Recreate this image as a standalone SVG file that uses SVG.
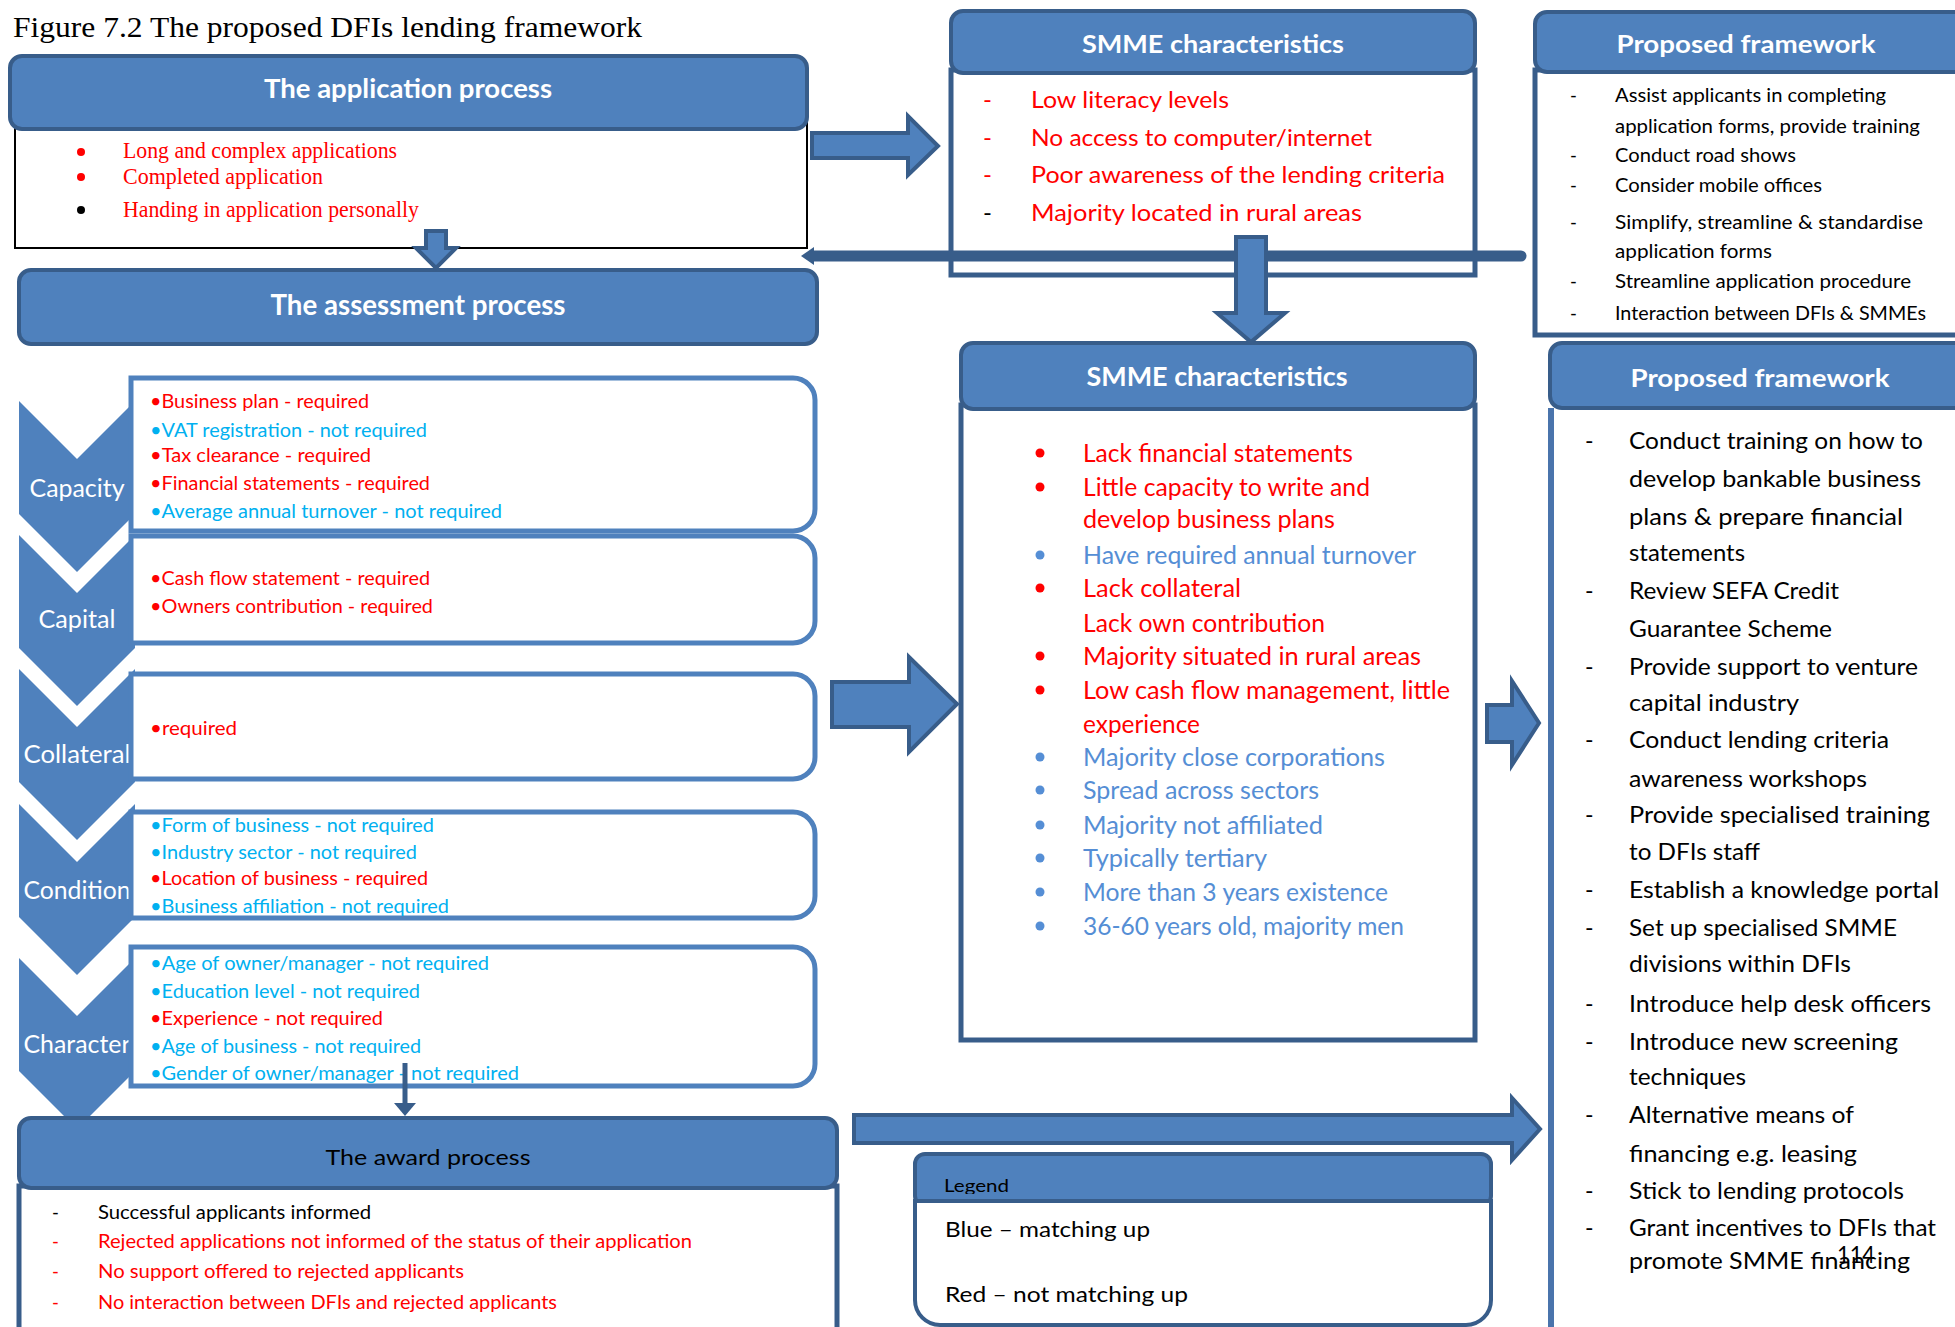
<svg xmlns="http://www.w3.org/2000/svg" width="1955" height="1327" viewBox="0 0 1955 1327">
<style>
.hdr{fill:#4F81BD;stroke:#385D8A;stroke-width:4}
.body{fill:#fff;stroke:#385D8A;stroke-width:5}
.sub{fill:#fff;stroke:#4F81BD;stroke-width:5}
.chev{fill:#4F81BD}
.arr{fill:#4F81BD;stroke:#385D8A;stroke-width:4}
text{font-family:Lato,"Liberation Sans",sans-serif}
.ht{fill:#fff;font-weight:bold;text-anchor:middle}
.serif{font-family:"Liberation Serif",serif}
.r{fill:#FF0000}.lb{fill:#00B0F0}.mb{fill:#558ED5}.k{fill:#000}
.f18{font-size:18.5px}.f23{font-size:23px}.f24{font-size:24px}.f25{font-size:25px}
.cl{fill:#fff;font-size:24.5px;text-anchor:middle}
</style>
<defs>
<clipPath id="legclip"><rect x="915" y="1150" width="580" height="44"/></clipPath>
</defs>

<text class="serif k" x="13" y="37" font-size="30" textLength="629" lengthAdjust="spacingAndGlyphs">Figure 7.2 The proposed DFIs lending framework</text>

<g id="application">
<rect x="15" y="108" width="792" height="140" fill="#fff" stroke="#000" stroke-width="2"/>
<circle cx="81" cy="152" r="4" fill="#FF0000"/>
<circle cx="81" cy="177" r="4" fill="#FF0000"/>
<circle cx="81" cy="210" r="4" fill="#000"/>
<text class="serif r" x="123" y="158" font-size="23" textLength="274" lengthAdjust="spacingAndGlyphs">Long and complex applications</text>
<text class="serif r" x="123" y="184" font-size="23" textLength="200" lengthAdjust="spacingAndGlyphs">Completed application</text>
<text class="serif r" x="123" y="217" font-size="23" textLength="296" lengthAdjust="spacingAndGlyphs">Handing in application personally</text>
<rect class="hdr" x="10" y="56" width="797" height="73" rx="12"/>
<text class="ht" x="408" y="98" font-size="27" textLength="288" lengthAdjust="spacingAndGlyphs">The application process</text>
</g>

<g id="assessment">
<rect class="hdr" x="19" y="270" width="798" height="74" rx="12"/>
<text class="ht" x="418" y="315" font-size="28" textLength="295" lengthAdjust="spacingAndGlyphs">The assessment process</text>
</g>

<g id="chevrons">
<polygon class="chev" points="19,401 77,459 135,401 135,514 77,572 19,514"/>
<polygon class="chev" points="19,535 77,593 135,535 135,648 77,706 19,648"/>
<polygon class="chev" points="19,669 77,727 135,669 135,782 77,840 19,782"/>
<polygon class="chev" points="19,804 77,862 135,804 135,917 77,975 19,917"/>
<polygon class="chev" points="19,958 77,1016 135,958 135,1071 77,1129 19,1071"/>
<text class="cl" x="77" y="497" textLength="95" lengthAdjust="spacingAndGlyphs">Capacity</text>
<text class="cl" x="77" y="628" textLength="77" lengthAdjust="spacingAndGlyphs">Capital</text>
<text class="cl" x="77" y="763" textLength="107" lengthAdjust="spacingAndGlyphs">Collateral</text>
<text class="cl" x="77" y="899" textLength="107" lengthAdjust="spacingAndGlyphs">Condition</text>
<text class="cl" x="77" y="1053" textLength="107" lengthAdjust="spacingAndGlyphs">Character</text>
</g>

<g id="capacity">
<path class="sub" d="M131,378 H793 A22,22 0 0 1 815,400 V509 A22,22 0 0 1 793,531 H131 Z"/>
<text class="f18 r" x="150" y="408" textLength="219" lengthAdjust="spacingAndGlyphs">•Business plan - required</text>
<text class="f18 lb" x="150" y="437" textLength="277" lengthAdjust="spacingAndGlyphs">•VAT registration - not required</text>
<text class="f18 r" x="150" y="462" textLength="221" lengthAdjust="spacingAndGlyphs">•Tax clearance - required</text>
<text class="f18 r" x="150" y="490" textLength="280" lengthAdjust="spacingAndGlyphs">•Financial statements - required</text>
<text class="f18 lb" x="150" y="518" textLength="352" lengthAdjust="spacingAndGlyphs">•Average annual turnover - not required</text>
</g>
<g id="capital">
<path class="sub" d="M131,536 H793 A22,22 0 0 1 815,558 V621 A22,22 0 0 1 793,643 H131 Z"/>
<text class="f18 r" x="150" y="585" textLength="280" lengthAdjust="spacingAndGlyphs">•Cash flow statement - required</text>
<text class="f18 r" x="150" y="613" textLength="283" lengthAdjust="spacingAndGlyphs">•Owners contribution - required</text>
</g>
<g id="collateral">
<path class="sub" d="M131,674 H793 A22,22 0 0 1 815,696 V757 A22,22 0 0 1 793,779 H131 Z"/>
<text class="f18 r" x="150" y="735" textLength="87" lengthAdjust="spacingAndGlyphs">•required</text>
</g>
<g id="condition">
<path class="sub" d="M131,812 H793 A22,22 0 0 1 815,834 V896 A22,22 0 0 1 793,918 H131 Z"/>
<text class="f18 lb" x="150" y="832" textLength="284" lengthAdjust="spacingAndGlyphs">•Form of business - not required</text>
<text class="f18 lb" x="150" y="859" textLength="267" lengthAdjust="spacingAndGlyphs">•Industry sector - not required</text>
<text class="f18 r" x="150" y="885" textLength="278" lengthAdjust="spacingAndGlyphs">•Location of business - required</text>
<text class="f18 lb" x="150" y="913" textLength="299" lengthAdjust="spacingAndGlyphs">•Business affiliation - not required</text>
</g>
<g id="character">
<path class="sub" d="M131,947 H793 A22,22 0 0 1 815,969 V1064 A22,22 0 0 1 793,1086 H131 Z"/>
<text class="f18 lb" x="150" y="970" textLength="339" lengthAdjust="spacingAndGlyphs">•Age of owner/manager - not required</text>
<text class="f18 lb" x="150" y="998" textLength="270" lengthAdjust="spacingAndGlyphs">•Education level - not required</text>
<text class="f18 r" x="150" y="1025" textLength="233" lengthAdjust="spacingAndGlyphs">•Experience - not required</text>
<text class="f18 lb" x="150" y="1053" textLength="271" lengthAdjust="spacingAndGlyphs">•Age of business - not required</text>
<text class="f18 lb" x="150" y="1080" textLength="369" lengthAdjust="spacingAndGlyphs">•Gender of owner/manager - not required</text>
</g>

<g id="award">
<rect class="body" x="19" y="1186" width="818" height="160"/>
<rect class="hdr" x="19" y="1118" width="818" height="70" rx="12"/>
<text x="428" y="1165" font-size="21" text-anchor="middle" fill="#000" textLength="205" lengthAdjust="spacingAndGlyphs">The award process</text>
<text class="f18 k" x="52" y="1219">-</text>
<text class="f18 r" x="52" y="1248">-</text>
<text class="f18 r" x="52" y="1278">-</text>
<text class="f18 r" x="52" y="1309">-</text>
<text class="f18 k" x="98" y="1219" textLength="273" lengthAdjust="spacingAndGlyphs">Successful applicants informed</text>
<text class="f18 r" x="98" y="1248" textLength="594" lengthAdjust="spacingAndGlyphs">Rejected applications not informed of the status of their application</text>
<text class="f18 r" x="98" y="1278" textLength="366" lengthAdjust="spacingAndGlyphs">No support offered to rejected applicants</text>
<text class="f18 r" x="98" y="1309" textLength="459" lengthAdjust="spacingAndGlyphs">No interaction between DFIs and rejected applicants</text>
</g>

<g id="smme1">
<rect class="body" x="951" y="70" width="524" height="205"/>
<rect class="hdr" x="951" y="11" width="524" height="62" rx="12"/>
<text class="ht" x="1213" y="53" font-size="25.5" textLength="262" lengthAdjust="spacingAndGlyphs">SMME characteristics</text>
<text class="f24 r" x="983" y="108">-</text>
<text class="f24 r" x="983" y="146">-</text>
<text class="f24 r" x="983" y="183">-</text>
<text class="f24 k" x="983" y="221">-</text>
<text class="f24 r" x="1031" y="108" textLength="198" lengthAdjust="spacingAndGlyphs">Low literacy levels</text>
<text class="f24 r" x="1031" y="146" textLength="341" lengthAdjust="spacingAndGlyphs">No access to computer/internet</text>
<text class="f24 r" x="1031" y="183" textLength="414" lengthAdjust="spacingAndGlyphs">Poor awareness of the lending criteria</text>
<text class="f24 r" x="1031" y="221" textLength="331" lengthAdjust="spacingAndGlyphs">Majority located in rural areas</text>
</g>

<g id="framework1">
<rect class="body" x="1535" y="70" width="440" height="265"/>
<rect class="hdr" x="1535" y="12" width="440" height="60" rx="12"/>
<text class="ht" x="1746" y="53" font-size="25.5" textLength="259" lengthAdjust="spacingAndGlyphs">Proposed framework</text>
<text class="f18 k" x="1570" y="102">-</text>
<text class="f18 k" x="1570" y="162">-</text>
<text class="f18 k" x="1570" y="192">-</text>
<text class="f18 k" x="1570" y="229">-</text>
<text class="f18 k" x="1570" y="288">-</text>
<text class="f18 k" x="1570" y="320">-</text>
<text class="f18 k" x="1615" y="102" textLength="271" lengthAdjust="spacingAndGlyphs">Assist applicants in completing</text>
<text class="f18 k" x="1615" y="133" textLength="305" lengthAdjust="spacingAndGlyphs">application forms, provide training</text>
<text class="f18 k" x="1615" y="162" textLength="181" lengthAdjust="spacingAndGlyphs">Conduct road shows</text>
<text class="f18 k" x="1615" y="192" textLength="207" lengthAdjust="spacingAndGlyphs">Consider mobile offices</text>
<text class="f18 k" x="1615" y="229" textLength="308" lengthAdjust="spacingAndGlyphs">Simplify, streamline &amp; standardise</text>
<text class="f18 k" x="1615" y="258" textLength="157" lengthAdjust="spacingAndGlyphs">application forms</text>
<text class="f18 k" x="1615" y="288" textLength="296" lengthAdjust="spacingAndGlyphs">Streamline application procedure</text>
<text class="f18 k" x="1615" y="320" textLength="311" lengthAdjust="spacingAndGlyphs">Interaction between DFIs &amp; SMMEs</text>
</g>

<g id="smme2">
<rect class="body" x="961" y="405" width="514" height="635"/>
<rect class="hdr" x="961" y="343" width="514" height="66" rx="12"/>
<text class="ht" x="1217" y="386" font-size="26" textLength="261" lengthAdjust="spacingAndGlyphs">SMME characteristics</text>
<circle cx="1040" cy="453" r="4.5" fill="#FF0000"/>
<circle cx="1040" cy="487" r="4.5" fill="#FF0000"/>
<circle cx="1040" cy="555" r="4.5" fill="#558ED5"/>
<circle cx="1040" cy="588" r="4.5" fill="#FF0000"/>
<circle cx="1040" cy="656" r="4.5" fill="#FF0000"/>
<circle cx="1040" cy="690" r="4.5" fill="#FF0000"/>
<circle cx="1040" cy="757" r="4.5" fill="#558ED5"/>
<circle cx="1040" cy="790" r="4.5" fill="#558ED5"/>
<circle cx="1040" cy="825" r="4.5" fill="#558ED5"/>
<circle cx="1040" cy="858" r="4.5" fill="#558ED5"/>
<circle cx="1040" cy="892" r="4.5" fill="#558ED5"/>
<circle cx="1040" cy="926" r="4.5" fill="#558ED5"/>
<text class="f25 r" x="1083" y="462" textLength="270" lengthAdjust="spacingAndGlyphs">Lack financial statements</text>
<text class="f25 r" x="1083" y="496" textLength="287" lengthAdjust="spacingAndGlyphs">Little capacity to write and</text>
<text class="f25 r" x="1083" y="528" textLength="252" lengthAdjust="spacingAndGlyphs">develop business plans</text>
<text class="f25 mb" x="1083" y="564" textLength="333" lengthAdjust="spacingAndGlyphs">Have required annual turnover</text>
<text class="f25 r" x="1083" y="597" textLength="158" lengthAdjust="spacingAndGlyphs">Lack collateral</text>
<text class="f25 r" x="1083" y="632" textLength="242" lengthAdjust="spacingAndGlyphs">Lack own contribution</text>
<text class="f25 r" x="1083" y="665" textLength="338" lengthAdjust="spacingAndGlyphs">Majority situated in rural areas</text>
<text class="f25 r" x="1083" y="699" textLength="367" lengthAdjust="spacingAndGlyphs">Low cash flow management,  little</text>
<text class="f25 r" x="1083" y="733" textLength="117" lengthAdjust="spacingAndGlyphs">experience</text>
<text class="f25 mb" x="1083" y="766" textLength="302" lengthAdjust="spacingAndGlyphs">Majority close corporations</text>
<text class="f25 mb" x="1083" y="799" textLength="236" lengthAdjust="spacingAndGlyphs">Spread across sectors</text>
<text class="f25 mb" x="1083" y="834" textLength="240" lengthAdjust="spacingAndGlyphs">Majority not affiliated</text>
<text class="f25 mb" x="1083" y="867" textLength="184" lengthAdjust="spacingAndGlyphs">Typically tertiary</text>
<text class="f25 mb" x="1083" y="901" textLength="305" lengthAdjust="spacingAndGlyphs">More than 3 years existence</text>
<text class="f25 mb" x="1083" y="935" textLength="321" lengthAdjust="spacingAndGlyphs">36-60 years old, majority men</text>
</g>

<g id="framework2">
<path d="M1551,408 V1330" fill="none" stroke="#4A74AC" stroke-width="6"/>
<rect class="hdr" x="1550" y="343" width="425" height="65" rx="12"/>
<text class="ht" x="1760" y="387" font-size="25.5" textLength="259" lengthAdjust="spacingAndGlyphs">Proposed framework</text>
<text class="f23 k" x="1585" y="449">-</text>
<text class="f23 k" x="1585" y="599">-</text>
<text class="f23 k" x="1585" y="675">-</text>
<text class="f23 k" x="1585" y="748">-</text>
<text class="f23 k" x="1585" y="823">-</text>
<text class="f23 k" x="1585" y="898">-</text>
<text class="f23 k" x="1585" y="936">-</text>
<text class="f23 k" x="1585" y="1012">-</text>
<text class="f23 k" x="1585" y="1050">-</text>
<text class="f23 k" x="1585" y="1123">-</text>
<text class="f23 k" x="1585" y="1199">-</text>
<text class="f23 k" x="1585" y="1236">-</text>
<text class="f23 k" x="1629" y="449" textLength="294" lengthAdjust="spacingAndGlyphs">Conduct training on how to</text>
<text class="f23 k" x="1629" y="487" textLength="292" lengthAdjust="spacingAndGlyphs">develop bankable business</text>
<text class="f23 k" x="1629" y="525" textLength="274" lengthAdjust="spacingAndGlyphs">plans &amp; prepare financial</text>
<text class="f23 k" x="1629" y="561" textLength="116" lengthAdjust="spacingAndGlyphs">statements</text>
<text class="f23 k" x="1629" y="599" textLength="210" lengthAdjust="spacingAndGlyphs">Review SEFA  Credit</text>
<text class="f23 k" x="1629" y="637" textLength="203" lengthAdjust="spacingAndGlyphs">Guarantee Scheme</text>
<text class="f23 k" x="1629" y="675" textLength="289" lengthAdjust="spacingAndGlyphs">Provide support to venture</text>
<text class="f23 k" x="1629" y="711" textLength="170" lengthAdjust="spacingAndGlyphs">capital industry</text>
<text class="f23 k" x="1629" y="748" textLength="260" lengthAdjust="spacingAndGlyphs">Conduct lending criteria</text>
<text class="f23 k" x="1629" y="787" textLength="238" lengthAdjust="spacingAndGlyphs">awareness workshops</text>
<text class="f23 k" x="1629" y="823" textLength="301" lengthAdjust="spacingAndGlyphs">Provide specialised training</text>
<text class="f23 k" x="1629" y="860" textLength="131" lengthAdjust="spacingAndGlyphs">to DFIs staff</text>
<text class="f23 k" x="1629" y="898" textLength="310" lengthAdjust="spacingAndGlyphs">Establish a knowledge portal</text>
<text class="f23 k" x="1629" y="936" textLength="268" lengthAdjust="spacingAndGlyphs">Set up specialised SMME</text>
<text class="f23 k" x="1629" y="972" textLength="222" lengthAdjust="spacingAndGlyphs">divisions within DFIs</text>
<text class="f23 k" x="1629" y="1012" textLength="302" lengthAdjust="spacingAndGlyphs">Introduce help desk officers</text>
<text class="f23 k" x="1629" y="1050" textLength="269" lengthAdjust="spacingAndGlyphs">Introduce new screening</text>
<text class="f23 k" x="1629" y="1085" textLength="117" lengthAdjust="spacingAndGlyphs">techniques</text>
<text class="f23 k" x="1629" y="1123" textLength="225" lengthAdjust="spacingAndGlyphs">Alternative means of</text>
<text class="f23 k" x="1629" y="1162" textLength="228" lengthAdjust="spacingAndGlyphs">financing e.g. leasing</text>
<text class="f23 k" x="1629" y="1199" textLength="275" lengthAdjust="spacingAndGlyphs">Stick to lending protocols</text>
<text class="f23 k" x="1629" y="1236" textLength="307" lengthAdjust="spacingAndGlyphs">Grant incentives to DFIs that</text>
<text class="f23 k" x="1629" y="1269" textLength="281" lengthAdjust="spacingAndGlyphs">promote  SMME  financing</text>
<text class="k" x="1837" y="1263" font-size="24" textLength="38" lengthAdjust="spacingAndGlyphs">114</text>
</g>

<g id="legend">
<rect class="hdr" x="915" y="1154" width="576" height="52" rx="10"/>
<text class="k" x="944" y="1192" font-size="18" textLength="65" lengthAdjust="spacingAndGlyphs" clip-path="url(#legclip)">Legend</text>
<path d="M915,1201 H1491 V1300 A25,25 0 0 1 1466,1325 H940 A25,25 0 0 1 915,1300 Z" fill="#fff" stroke="#385D8A" stroke-width="4"/>
<text class="k" x="945" y="1237" font-size="21" textLength="205" lengthAdjust="spacingAndGlyphs">Blue – matching up</text>
<text class="k" x="945" y="1302" font-size="21" textLength="243" lengthAdjust="spacingAndGlyphs">Red  – not matching up</text>
</g>

<g id="connectors">
<line x1="812" y1="256" x2="1521" y2="256" stroke="#385D8A" stroke-width="11" stroke-linecap="round"/>
<polygon points="801,256 814,247 814,265" fill="#385D8A"/>
<polygon class="arr" points="426,231 446,231 446,248 456,248 436,268 416,248 426,248"/>
<polygon class="arr" points="812,133 908,133 908,116 938,146 908,175 908,158 812,158"/>
<polygon class="arr" points="1236,237 1266,237 1266,313 1285,313 1251,342 1217,313 1236,313"/>
<polygon class="arr" points="832,682 909,682 909,657 957,704 909,752 909,727 832,727"/>
<polygon class="arr" points="1487,705 1512,705 1512,681 1539,723 1512,765 1512,742 1487,742"/>
<polygon class="arr" points="854,1115 1512,1115 1512,1098 1540,1129 1512,1160 1512,1143 854,1143"/>
<line x1="405" y1="1063" x2="405" y2="1105" stroke="#385D8A" stroke-width="5"/>
<polygon points="394,1103 416,1103 405,1116" fill="#385D8A"/>
</g>
</svg>
